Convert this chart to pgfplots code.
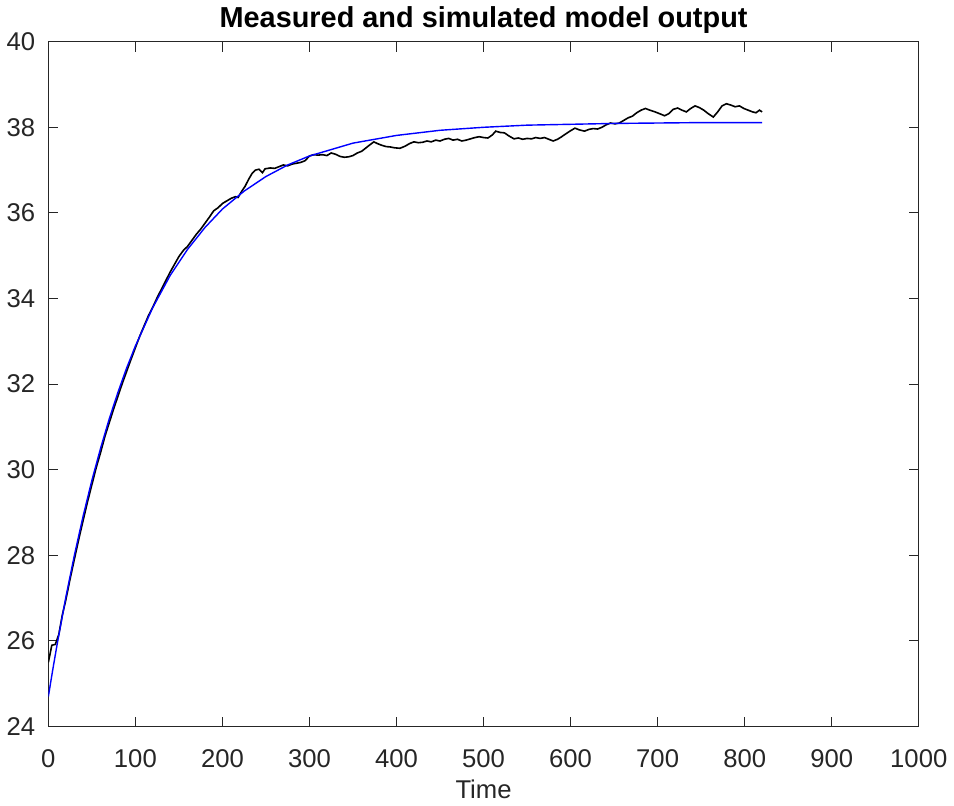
\documentclass[border=0pt]{standalone}
\usepackage{pgfplots}
\pgfplotsset{compat=1.18}
\usepackage{fontspec}
\setmainfont{Liberation Sans}
\definecolor{axgray}{rgb}{0.15,0.15,0.15}

\begin{document}
\begin{tikzpicture}
\begin{axis}[
  width=434pt,height=341.5pt,scale only axis,
  xmin=0,xmax=1000,ymin=24,ymax=40,
  xtick={0,100,...,1000},ytick={24,26,...,40},
  tick align=inside,major tick length=5pt,
  axis line style={axgray,line width=0.5pt},
  tick style={axgray,line width=0.5pt},
  tick label style={font=\fontsize{12.8}{14}\selectfont,text=axgray},
  /pgf/number format/assume math mode=true,
  /pgf/number format/1000 sep={},
  xticklabel style={yshift=-8pt},
  yticklabel style={xshift=-3pt},
  title={\bfseries Measured and simulated model output},
  title style={font=\fontsize{14.4}{16}\selectfont,yshift=-5.5pt},
  xlabel={Time},
  xlabel style={font=\fontsize{12.8}{14}\selectfont,text=axgray,yshift=1pt},
]
% measured output
\addplot[black,line width=0.8pt] coordinates {
(0,25.50) (4,25.90) (8,25.92) (12,26.15) (16,26.60) (20,26.95) (25,27.45) (30,27.92)
(35,28.38) (40,28.82) (45,29.25) (50,29.65) (55,30.05) (60,30.40) (65,30.78) (70,31.10)
(75,31.42) (80,31.72) (85,32.02) (90,32.30) (95,32.58) (100,32.85) (105,33.12) (110,33.36)
(115,33.60) (120,33.80) (125,34.02) (130,34.22) (135,34.42) (140,34.62) (145,34.80) (150,34.98)
(155,35.12) (160,35.22) (165,35.36) (170,35.50) (175,35.62) (180,35.76) (185,35.90) (190,36.05)
(195,36.12) (200,36.22) (205,36.28) (210,36.34) (215,36.38) (218,36.36) (222,36.50) (226,36.62)
(230,36.78) (234,36.92) (238,37.00) (242,37.02) (246,36.94) (249,37.03) (255,37.05) (260,37.04)
(265,37.08) (270,37.12) (275,37.10) (280,37.14) (285,37.16) (290,37.18) (295,37.22) (300,37.33)
(305,37.36) (310,37.35) (315,37.36) (320,37.34) (325,37.40) (330,37.37) (335,37.32) (340,37.30)
(345,37.31) (350,37.34) (355,37.40) (360,37.44) (365,37.52) (370,37.60) (374,37.66) (378,37.62)
(383,37.58) (388,37.55) (393,37.54) (398,37.52) (404,37.51) (410,37.56) (415,37.62) (420,37.66)
(425,37.64) (430,37.65) (435,37.68) (440,37.66) (445,37.70) (450,37.68) (455,37.72) (460,37.74)
(465,37.70) (470,37.72) (475,37.68) (480,37.70) (485,37.73) (490,37.76) (495,37.78) (500,37.76)
(505,37.75) (510,37.82) (514,37.91) (519,37.88) (524,37.87) (529,37.80) (535,37.73) (540,37.75)
(545,37.72) (550,37.74) (555,37.73) (560,37.76) (565,37.74) (570,37.76) (575,37.72) (580,37.68)
(585,37.72) (589,37.77) (594,37.84) (600,37.92) (605,37.98) (610,37.94) (616,37.91) (621,37.95)
(626,37.97) (631,37.96) (636,38.00) (641,38.06) (646,38.10) (651,38.08) (656,38.10) (661,38.16)
(666,38.22) (671,38.26) (676,38.34) (681,38.40) (686,38.44) (691,38.40) (697,38.36) (702,38.32)
(708,38.27) (713,38.32) (718,38.42) (723,38.45) (728,38.40) (733,38.36) (738,38.44) (743,38.50)
(748,38.46) (753,38.40) (758,38.32) (764,38.24) (769,38.36) (774,38.50) (779,38.55) (784,38.52)
(789,38.48) (794,38.50) (799,38.44) (804,38.40) (809,38.36) (813,38.34) (817,38.40) (820,38.36)
};
% simulated output
\addplot[blue,line width=0.7pt] coordinates {
(0,24.70) (5,25.32) (10,25.91) (20,27.01) (30,28.01) (40,28.92) (50,29.75) (60,30.50)
(70,31.19) (80,31.81) (90,32.38) (100,32.89) (120,33.79) (140,34.54) (160,35.15) (180,35.66)
(200,36.09) (225,36.51) (250,36.85) (275,37.12) (300,37.33) (350,37.63) (400,37.81) (450,37.93)
(500,38.00) (550,38.05) (600,38.07) (650,38.09) (700,38.10) (750,38.11) (820,38.11)
};
\end{axis}
\end{tikzpicture}
\end{document}
